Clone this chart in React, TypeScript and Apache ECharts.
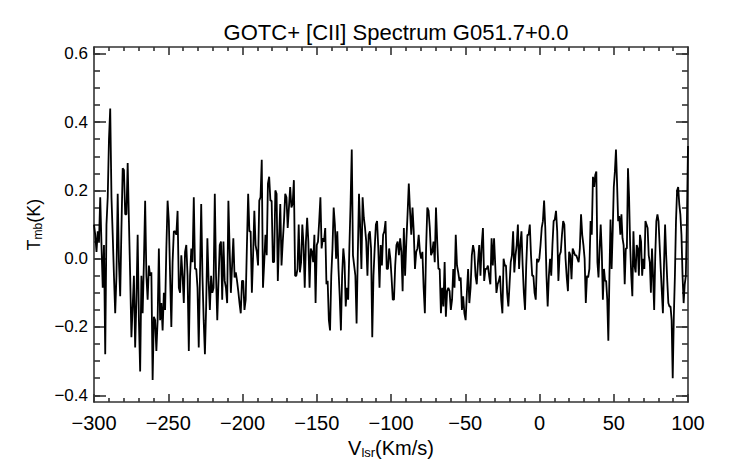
import React, { useEffect, useRef } from "react";
import * as echarts from "echarts";

const TITLE = "GOTC+ [CII] Spectrum G051.7+0.0";
const X_NAME = "{a|V}{b|lsr}{a|(Km/s)}";
const Y_NAME = "{a|T}{b|mb}{a|(K)}";

const X_MIN = -300;
const X_MAX = 100;
const X_STEP = 50;
const Y_MIN = -0.42;
const Y_MAX = 0.62;
const Y_MAJOR = [-0.4, -0.2, 0, 0.2, 0.4, 0.6];
const Y_MINOR = [-0.4, -0.35, -0.3, -0.25, -0.2, -0.15, -0.1, -0.05, 0, 0.05, 0.1, 0.15, 0.2, 0.25, 0.3, 0.35, 0.4, 0.45, 0.5, 0.55, 0.6];

// velocity boundaries of the six read-off segments (km/s)
const SEG_BOUNDS = [-300, -232.8, -165.4, -98.0, -30.6, 36.8, 100];

const SEG1 = [0.10, 0.07, 0.02, 0.08, 0.05, 0.18, 0.04, -0.085, 0.04, -0.28, 0.10, 0.18, 0.35, 0.44, 0.18, 0.07, -0.05, -0.16, -0.05, 0.19, -0.01, -0.11, 0.09, 0.265, 0.26, 0.13, 0.13, 0.28, 0.11, -0.05, -0.23, -0.14, -0.05, -0.26, -0.12, 0.07, -0.18, -0.33, -0.05, -0.16, -0.01, 0.17, -0.05, -0.12, -0.02, -0.05, -0.04, -0.355, -0.17, -0.18, -0.27, -0.18, 0.03, -0.18, -0.13, -0.21, -0.10, -0.15, 0.03, 0.17, 0.11, -0.05, -0.20, -0.01, 0.08, 0.08, 0.07, 0.14, -0.085, -0.10, 0.01, -0.05, -0.13, 0.02, 0.04, -0.05, -0.27, -0.05, 0.03, -0.01];
const SEG2 = [0.18, -0.03, -0.03, -0.085, -0.26, -0.05, 0.16, -0.05, -0.18, -0.28, -0.14, 0.06, -0.065, -0.15, -0.05, -0.10, -0.085, 0.19, -0.05, -0.18, -0.065, 0.04, 0.05, -0.12, 0.05, -0.065, -0.085, -0.13, 0.17, 0.03, -0.10, -0.02, 0.06, -0.055, -0.04, -0.065, -0.095, -0.13, -0.16, -0.065, -0.065, -0.15, -0.12, 0.04, 0.19, 0.08, 0.08, -0.10, 0.01, 0.14, 0.04, 0.02, -0.02, 0.17, 0.18, 0.29, -0.085, -0.01, 0.07, 0.01, 0.22, 0.24, 0.17, 0.17, -0.01, -0.01, 0.20, 0.19, -0.065, 0.06, 0.16, -0.02, 0.05, 0.11, 0.19, 0.18, 0.09, 0.15, 0.21, 0.15, 0.16];
const SEG3 = [0.23, -0.05, -0.05, -0.03, 0.10, -0.04, -0.01, 0.10, 0.04, -0.085, 0.05, 0.12, 0.05, -0.085, 0.03, 0.02, -0.01, 0.07, -0.13, 0.04, 0.05, 0.11, 0.18, 0.03, 0.06, 0.05, 0.09, -0.075, -0.065, -0.18, -0.21, -0.05, 0.03, 0.15, 0.10, 0.00, 0.08, -0.03, -0.11, -0.21, -0.05, 0.03, -0.01, -0.14, -0.085, -0.12, 0.03, 0.16, 0.32, 0.01, -0.02, -0.05, -0.19, 0.01, 0.19, 0.09, -0.03, 0.18, 0.12, 0.09, 0.05, -0.05, 0.07, 0.08, 0.03, -0.23, -0.05, 0.03, 0.10, 0.11, 0.03, -0.085, 0.04, -0.02, 0.07, 0.08, 0.11, -0.03, -0.03, 0.03, 0.00, -0.055, -0.12];
const SEG4 = [-0.12, -0.02, 0.04, 0.05, 0.01, 0.06, 0.02, -0.095, 0.09, -0.05, 0.05, 0.13, 0.22, 0.14, 0.07, 0.15, 0.08, -0.03, 0.02, 0.03, 0.07, 0.02, 0.00, 0.02, -0.085, -0.16, 0.03, 0.15, 0.14, 0.09, 0.01, 0.02, 0.05, -0.01, 0.15, 0.05, -0.03, -0.03, -0.16, -0.085, -0.14, -0.01, -0.17, -0.095, -0.085, -0.095, -0.15, -0.12, -0.03, -0.085, 0.07, -0.02, -0.04, -0.065, -0.055, -0.15, -0.11, -0.16, -0.18, -0.10, -0.03, -0.13, -0.085, 0.01, 0.04, 0.02, -0.05, -0.075, -0.01, 0.04, -0.05, 0.04, 0.09, -0.065, -0.03, -0.03, -0.02, -0.05, -0.075, 0.06, -0.02];
const SEG5 = [0.06, -0.02, -0.10, -0.075, -0.065, -0.05, -0.12, -0.16, 0.00, -0.02, -0.02, -0.10, -0.14, -0.075, -0.01, 0.01, 0.08, -0.04, 0.01, 0.04, 0.10, -0.03, 0.04, 0.08, -0.02, -0.10, -0.15, -0.02, 0.07, 0.07, 0.10, 0.01, -0.05, -0.05, -0.10, -0.12, 0.00, -0.01, 0.00, 0.04, 0.09, 0.11, 0.17, 0.09, -0.05, -0.14, -0.05, 0.00, -0.05, 0.04, 0.11, 0.115, 0.14, 0.08, -0.065, 0.01, 0.02, 0.07, 0.11, 0.10, 0.00, -0.055, -0.095, 0.02, 0.01, -0.06, 0.03, 0.02, 0.01, 0.01, 0.00, -0.01, 0.03, 0.13, 0.07, 0.04, 0.00, -0.13, -0.05, -0.055, -0.03, 0.11, 0.07, 0.24];
const SEG6 = [0.21, 0.245, 0.255, -0.01, -0.055, 0.03, 0.10, 0.02, -0.12, -0.03, -0.065, -0.065, -0.12, -0.24, -0.05, 0.115, -0.03, 0.08, 0.21, 0.255, 0.32, 0.22, 0.11, 0.125, 0.07, 0.13, 0.06, 0.04, -0.075, 0.03, 0.03, 0.265, 0.18, 0.04, -0.05, -0.11, 0.08, -0.02, -0.04, 0.04, 0.03, -0.05, 0.07, 0.05, -0.05, 0.00, -0.03, 0.11, 0.10, 0.09, 0.01, -0.01, -0.10, 0.03, -0.05, -0.15, 0.01, 0.11, 0.13, 0.11, 0.04, -0.03, -0.095, -0.16, -0.02, 0.10, 0.01, -0.065, -0.13, -0.14, -0.14, -0.18, -0.35, -0.17, -0.05, 0.11, 0.20, 0.21, 0.16, 0.13, 0.07, -0.05, -0.13, -0.075, -0.05, 0.11, 0.33];

const SEGMENTS = [SEG1, SEG2, SEG3, SEG4, SEG5, SEG6];

function buildData(): [number, number][] {
  const out: [number, number][] = [];
  SEGMENTS.forEach((seg, k) => {
    const a = SEG_BOUNDS[k];
    const b = SEG_BOUNDS[k + 1];
    const last = k === SEGMENTS.length - 1;
    const n = last ? seg.length - 1 : seg.length;
    seg.forEach((v, i) => {
      out.push([a + ((b - a) * i) / n, v]);
    });
  });
  return out;
}

const FONT = "'Liberation Sans', Arial, Helvetica, sans-serif";
const FRAME_COLOR = "#333";
const minus = (s: string) => s.replace("-", "\u2212");

export default function App() {
  const ref = useRef<HTMLDivElement>(null);
  useEffect(() => {
    if (!ref.current) return;
    const chart = echarts.init(ref.current, undefined, { renderer: "svg" });
    const line = { color: FRAME_COLOR, width: 1.6 };
    const xBase = (pos: "bottom" | "top", labels: boolean) => ({
      type: "value",
      position: pos,
      min: X_MIN,
      max: X_MAX,
      interval: X_STEP,
      axisLine: { show: true, onZero: false, lineStyle: line },
      axisTick: { show: true, inside: true, length: 8, lineStyle: line },
      minorTick: { show: true, splitNumber: 5, length: 4, lineStyle: line },
      splitLine: { show: false },
      minorSplitLine: { show: false },
      axisLabel: labels
        ? {
            show: true,
            fontSize: 20,
            color: "#000",
            fontFamily: FONT,
            margin: 11,
            showMinLabel: true,
            showMaxLabel: true,
            formatter: (v: number) => minus(String(v)),
          }
        : { show: false },
    });
    const yBase = (pos: "left" | "right", major: boolean, labels: boolean) => ({
      type: "value",
      position: pos,
      min: Y_MIN,
      max: Y_MAX,
      axisLine: { show: major, onZero: false, lineStyle: line },
      axisTick: {
        show: true,
        inside: true,
        length: major ? 12 : 6,
        lineStyle: line,
        customValues: major ? Y_MAJOR : Y_MINOR,
      },
      splitLine: { show: false },
      axisLabel: labels
        ? {
            show: true,
            customValues: Y_MAJOR,
            fontSize: 17,
            color: "#000",
            fontFamily: FONT,
            margin: 6,
            formatter: (v: number) => minus(v.toFixed(1)),
          }
        : { show: false },
    });

    const xMain: any = xBase("bottom", true);
    xMain.name = X_NAME;
    xMain.nameLocation = "middle";
    xMain.nameGap = 25;
    xMain.nameTextStyle = {
      fontSize: 20,
      color: "#000",
      fontFamily: FONT,
      rich: {
        a: { fontSize: 20, color: "#000", fontFamily: FONT },
        b: { fontSize: 13, color: "#000", fontFamily: FONT, padding: [9, 0, 0, 0] },
      },
    };
    const yMain: any = yBase("left", true, true);
    yMain.name = Y_NAME;
    yMain.nameLocation = "middle";
    yMain.nameGap = 46;
    yMain.nameTextStyle = {
      fontSize: 18,
      color: "#000",
      fontFamily: FONT,
      rich: {
        a: { fontSize: 18, color: "#000", fontFamily: FONT },
        b: { fontSize: 12, color: "#000", fontFamily: FONT, padding: [8, 0, 0, 0] },
      },
    };

    chart.setOption({
      animation: false,
      backgroundColor: "#fff",
      title: {
        text: TITLE,
        left: 391,
        top: 16,
        textAlign: "center",
        textStyle: { fontSize: 22, fontWeight: "normal", color: "#000", fontFamily: FONT },
      },
      grid: { left: 94, right: 54, top: 47, bottom: 58, containLabel: false },
      xAxis: [xMain, xBase("top", false)],
      yAxis: [
        yMain,
        yBase("left", false, false),
        yBase("right", true, false),
        yBase("right", false, false),
      ],
      series: [
        {
          type: "line",
          xAxisIndex: 0,
          yAxisIndex: 0,
          data: buildData(),
          showSymbol: false,
          symbol: "none",
          lineStyle: { color: "#000", width: 1.8 },
          clip: true,
        },
      ],
    });
    return () => chart.dispose();
  }, []);
  return (
    <div
      ref={ref}
      style={{ position: "fixed", left: 0, top: 0, width: 742, height: 464, background: "#fff" }}
    />
  );
}
